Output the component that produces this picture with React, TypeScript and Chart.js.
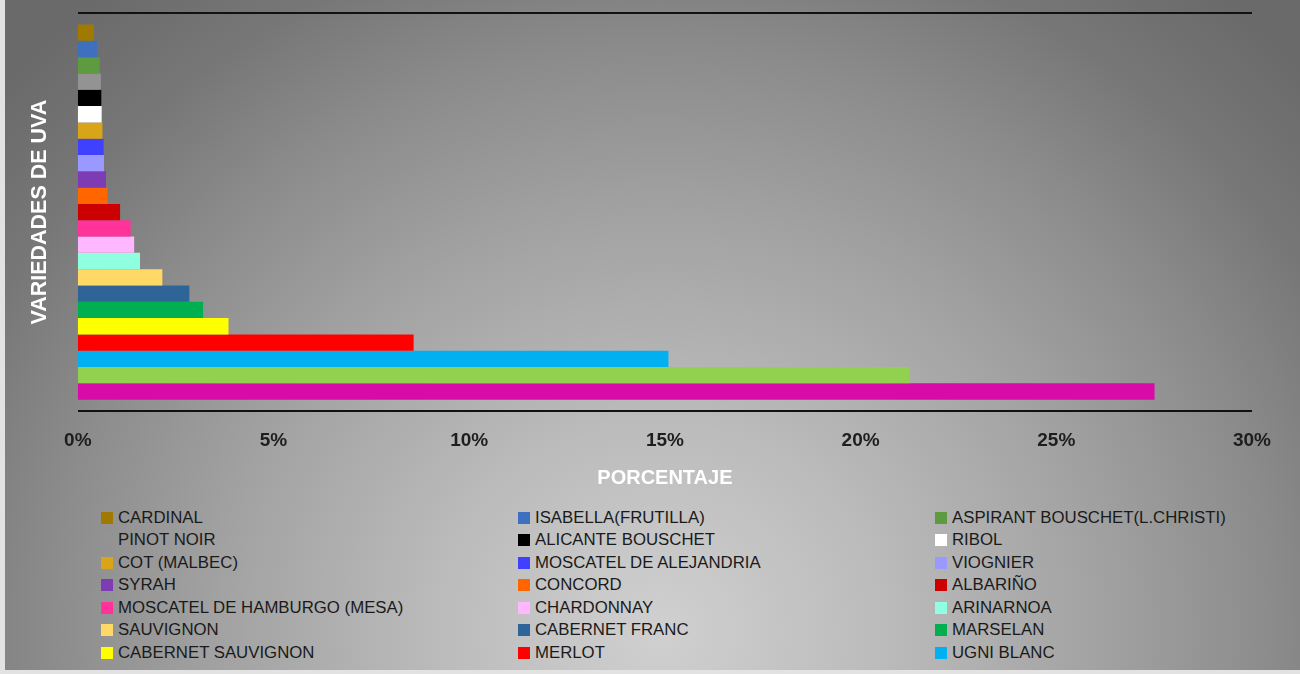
import React, { useEffect, useRef } from "react";
import { Chart, registerables } from "chart.js";

Chart.register(...registerables);

const varieties = [
  "CARDINAL",
  "ISABELLA(FRUTILLA)",
  "ASPIRANT BOUSCHET(L.CHRISTI)",
  "PINOT NOIR",
  "ALICANTE BOUSCHET",
  "RIBOL",
  "COT (MALBEC)",
  "MOSCATEL DE ALEJANDRIA",
  "VIOGNIER",
  "SYRAH",
  "CONCORD",
  "ALBARIÑO",
  "MOSCATEL DE HAMBURGO (MESA)",
  "CHARDONNAY",
  "ARINARNOA",
  "SAUVIGNON",
  "CABERNET FRANC",
  "MARSELAN",
  "CABERNET SAUVIGNON",
  "MERLOT",
  "UGNI BLANC",
  "MOSCATEL DE HAMBURGO",
  "TANNAT",
];

const shares = [
  0.41, 0.49, 0.56, 0.59, 0.6, 0.61, 0.63, 0.66, 0.67, 0.72, 0.76, 1.08, 1.35,
  1.44, 1.59, 2.16, 2.85, 3.2, 3.85, 8.58, 15.09, 21.25, 27.51,
];

const colors = [
  "#a07a00",
  "#3f6fbf",
  "#5e9a3f",
  "#939393",
  "#000000",
  "#ffffff",
  "#d9a418",
  "#4040ff",
  "#9999ff",
  "#7e3cb4",
  "#ff6600",
  "#cc0000",
  "#ff3399",
  "#ffb8ff",
  "#90ffe0",
  "#ffd966",
  "#2e6497",
  "#00b050",
  "#ffff00",
  "#ff0000",
  "#00b0f0",
  "#92d050",
  "#d80aa8",
];

const categories = [""];
const xTicks = { min: 0, max: 30, step: 5 };
const legendVisibleCount = 21;

const SANS = "'Liberation Sans', Arial, sans-serif";

export default function App() {
  const canvasRef = useRef<HTMLCanvasElement | null>(null);

  useEffect(() => {
    const canvas = canvasRef.current;
    if (!canvas) return;
    const chart = new Chart(canvas, {
      type: "bar",
      data: {
        labels: categories,
        datasets: varieties.map((name, i) => ({
          label: name,
          data: [shares[i]],
          backgroundColor: colors[i],
          borderWidth: 0,
          categoryPercentage: 0.942,
          barPercentage: 1,
        })),
      },
      options: {
        animation: false,
        responsive: true,
        maintainAspectRatio: false,
        indexAxis: "y",
        layout: { padding: { left: 10, right: 48, top: 13, bottom: 0 } },
        plugins: {
          legend: { display: false },
          tooltip: { enabled: false },
        },
        scales: {
          x: {
            min: xTicks.min,
            max: xTicks.max,
            ticks: {
              stepSize: xTicks.step,
              callback: (v: any) => v + "%",
              color: "#1e1e1e",
              font: { family: SANS, size: 19, weight: "bold" },
              padding: 18,
              maxRotation: 0,
            },
            grid: { display: false, drawTicks: false },
            border: { display: false },
            title: {
              display: true,
              text: "PORCENTAJE",
              color: "#ffffff",
              font: { family: SANS, size: 20, weight: "bold" },
              padding: { top: -4, bottom: 10 },
            },
          },
          y: {
            ticks: { display: false },
            grid: {
              color: "#111111",
              lineWidth: 2,
              drawTicks: false,
              offset: true,
            },
            border: { display: false },
            title: {
              display: true,
              text: "VARIEDADES DE UVA",
              color: "#ffffff",
              font: { family: SANS, size: 21.5, weight: "bold" },
              padding: { top: 12, bottom: 25 },
            },
          },
        },
      },
    });
    return () => chart.destroy();
  }, []);

  const legendCols = [96, 513, 930];
  const legendTop = 517.5;
  const legendStep = 22.5;

  return (
    <div
      style={{
        position: "fixed",
        left: 0,
        top: 0,
        width: 1300,
        height: 674,
        background: "#e2e2e2",
        overflow: "hidden",
      }}
    >
      <div
        style={{
          position: "absolute",
          left: 5,
          top: 0,
          width: 1295,
          height: 670,
          background:
            "radial-gradient(ellipse 760px 720px at 655px 630px, #d0d0d0 0%, #bcbcbc 28%, #a2a2a2 58%, #8c8c8c 80%, #777777 98%, #6a6a6a 115%)",
        }}
      >
        <div style={{ position: "absolute", left: 0, top: 0, width: 1295, height: 500 }}>
          <canvas ref={canvasRef} />
        </div>
        {varieties.slice(0, legendVisibleCount).map((name, i) => {
          const col = i % 3;
          const row = Math.floor(i / 3);
          return (
            <div
              key={name}
              style={{
                position: "absolute",
                left: legendCols[col],
                top: legendTop + row * legendStep - 11,
                height: 22,
                display: "flex",
                alignItems: "center",
                fontFamily: SANS,
                fontSize: 16.8,
                color: "#1a1a1a",
                whiteSpace: "nowrap",
              }}
            >
              <span
                style={{
                  display: "inline-block",
                  width: 12,
                  height: 12,
                  background: colors[i],
                  marginRight: 5,
                }}
              />
              <span>{name}</span>
            </div>
          );
        })}
      </div>
    </div>
  );
}
